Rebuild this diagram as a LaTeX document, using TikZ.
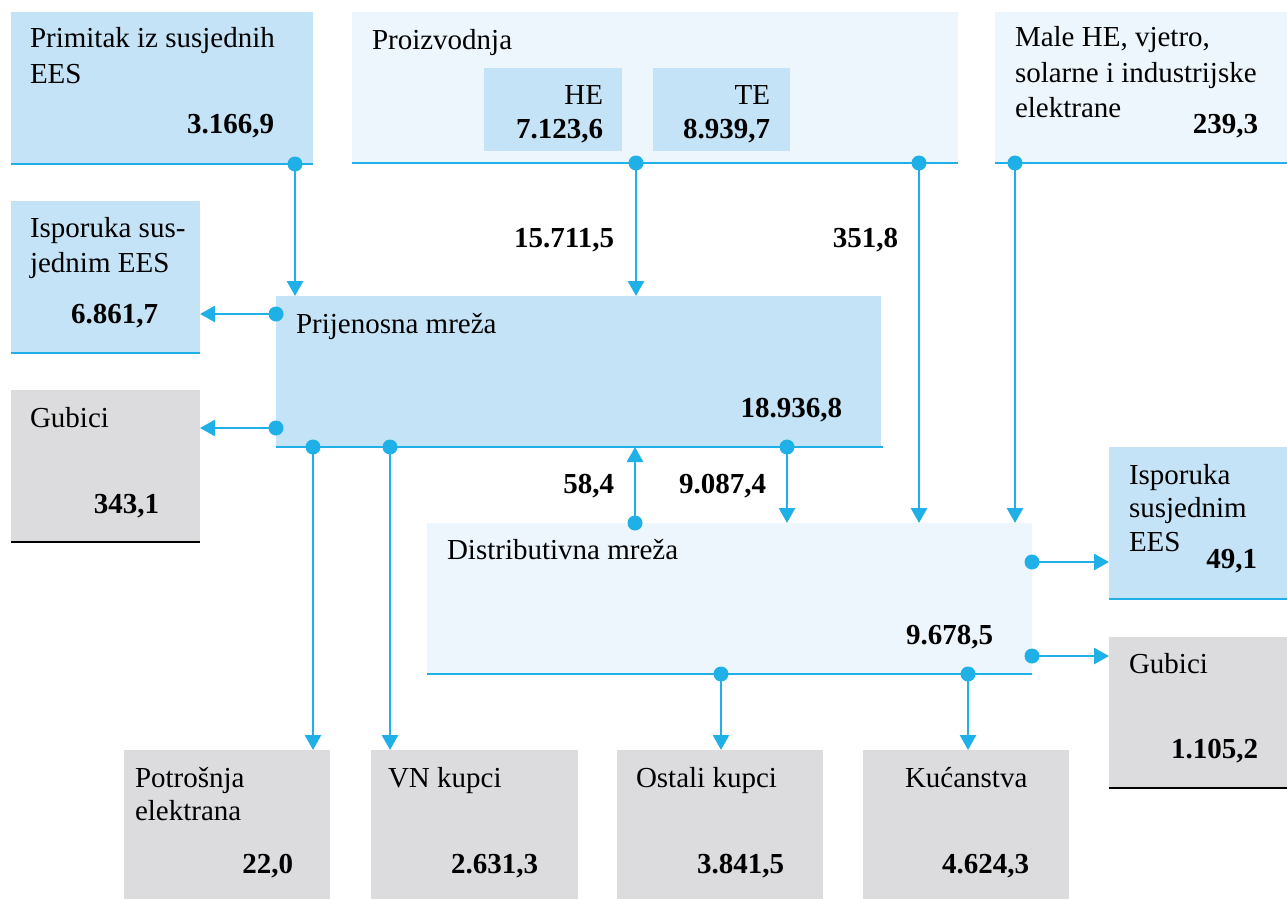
\documentclass[tikz,border=0pt]{standalone}
\usepackage{fontspec}
\setmainfont{Liberation Serif}
\usetikzlibrary{arrows.meta}
\definecolor{lb}{HTML}{C5E3F6}
\definecolor{vlb}{HTML}{EEF6FD}
\definecolor{gr}{HTML}{DCDCDE}
\definecolor{ab}{HTML}{1EB0E6}
\tikzset{
  box/.style={draw=none,inner sep=0pt,outer sep=0pt,anchor=north west},
  lbox/.style={box,fill=lb},
  vbox/.style={box,fill=vlb},
  gbox/.style={box,fill=gr},
  bline/.style={draw=ab,line width=2.4pt},
  kline/.style={draw=black,line width=2.2pt},
  txt/.style={inner sep=0pt,outer sep=0pt,anchor=base west,font=\fontsize{29}{34}\selectfont},
  num/.style={inner sep=0pt,outer sep=0pt,anchor=base east,font=\fontsize{29}{34}\selectfont\bfseries},
  flow/.style={draw=ab,line width=2.7pt,-{Triangle[length=15pt,width=16pt]}},
  dotc/.style={fill=ab}
}
\begin{document}
\begin{tikzpicture}[x=1pt,y=-1pt]
\useasboundingbox (0,0) rectangle (1287,899);
% boxes
\node[lbox,minimum width=302pt,minimum height=152pt] (prim) at (11,12) {};
\node[vbox,minimum width=606pt,minimum height=151pt] (proiz) at (352,12) {};
\node[lbox,minimum width=138pt,minimum height=83pt] (he) at (484,68) {};
\node[lbox,minimum width=137pt,minimum height=83pt] (te) at (653,68) {};
\node[vbox,minimum width=292pt,minimum height=151pt] (male) at (995,12) {};
\node[lbox,minimum width=189pt,minimum height=152pt] (ispL) at (11,201) {};
\node[gbox,minimum width=189pt,minimum height=152pt] (gubL) at (11,390) {};
\node[lbox,minimum width=605pt,minimum height=151pt] (prij) at (276,296) {};
\node[vbox,minimum width=605pt,minimum height=151pt] (dist) at (427,523) {};
\node[lbox,minimum width=178pt,minimum height=152pt] (ispR) at (1109,447) {};
\node[gbox,minimum width=178pt,minimum height=151pt] (gubR) at (1109,637) {};
\node[gbox,minimum width=206pt,minimum height=149pt] (potr) at (124,750) {};
\node[gbox,minimum width=207pt,minimum height=149pt] (vn) at (371,750) {};
\node[gbox,minimum width=206pt,minimum height=149pt] (ost) at (617,750) {};
\node[gbox,minimum width=206pt,minimum height=149pt] (kuc) at (863,750) {};
% bottom lines
\draw[bline] (prim.south west) -- (prim.south east);
\draw[bline] (proiz.south west) -- (proiz.south east);
\draw[bline] (male.south west) -- (male.south east);
\draw[bline] (ispL.south west) -- (ispL.south east);
\draw[kline] (gubL.south west) -- (gubL.south east);
\draw[bline] (prij.south west) -- ([xshift=2pt]prij.south east);
\draw[bline] (dist.south west) -- (dist.south east);
\draw[bline] (ispR.south west) -- (ispR.south east);
\draw[kline] (gubR.south west) -- (gubR.south east);
% texts
\node[txt] (t1) at (30,48) {Primitak iz susjednih};
\node[txt] (t2) at (30,83) {EES};
\node[num] (n1) at (274,133) {3.166,9};
\node[txt] (t3) at (372,49) {Proizvodnja};
\node[txt,anchor=base east] (t4) at (603,104) {HE};
\node[num] (n2) at (603,138) {7.123,6};
\node[txt,anchor=base east] (t5) at (770,104) {TE};
\node[num] (n3) at (770,138) {8.939,7};
\node[txt] (t6) at (1015,47) {Male HE, vjetro,};
\node[txt] (t7) at (1015,82) {solarne i industrijske};
\node[txt] (t8) at (1015,117) {elektrane};
\node[num] (n4) at (1258,133) {239,3};
\node[txt] (t9) at (30,237) {Isporuka sus-};
\node[txt] (t10) at (30,272) {jednim EES};
\node[num] (n5) at (158,323) {6.861,7};
\node[txt] (t11) at (30,427) {Gubici};
\node[num] (n6) at (159,513) {343,1};
\node[txt] (t12) at (296,333) {Prijenosna mreža};
\node[num] (n7) at (842,417) {18.936,8};
\node[txt] (t13) at (447,559) {Distributivna mreža};
\node[num] (n8) at (993,644) {9.678,5};
\node[txt] (t14) at (1129,484) {Isporuka};
\node[txt] (t15) at (1129,517) {susjednim};
\node[txt] (t16) at (1129,551) {EES};
\node[num] (n9) at (1257,568) {49,1};
\node[txt] (t17) at (1129,673) {Gubici};
\node[num] (n10) at (1258,758) {1.105,2};
\node[txt] (t18) at (135,787) {Potrošnja};
\node[txt] (t19) at (135,820) {elektrana};
\node[num] (n11) at (293,873) {22,0};
\node[txt] (t20) at (388,787) {VN kupci};
\node[num] (n12) at (538,873) {2.631,3};
\node[txt] (t21) at (636,787) {Ostali kupci};
\node[num] (n13) at (784,873) {3.841,5};
\node[txt] (t22) at (905,787) {Kućanstva};
\node[num] (n14) at (1029,873) {4.624,3};
\node[num] (l1) at (614,247) {15.711,5};
\node[num] (l2) at (898,247) {351,8};
\node[num] (l3) at (614,493) {58,4};
\node[num] (l4) at (766,493) {9.087,4};
% connector start points
\coordinate (s1) at (295,164);
\coordinate (s2) at (636,163);
\coordinate (s3) at (919,163);
\coordinate (s4) at (1015,163);
\coordinate (s5) at (276,314);
\coordinate (s6) at (276,428);
\coordinate (s7) at (635,523);
\coordinate (s8) at (787,447);
\coordinate (s9) at (313,447);
\coordinate (s10) at (390,447);
\coordinate (s11) at (1032,562);
\coordinate (s12) at (1032,656);
\coordinate (s13) at (721,674);
\coordinate (s14) at (968,674);
% connectors
\draw[flow] (s1) -- (s1 |- prij.north);
\draw[flow] (s2) -- (s2 |- prij.north);
\draw[flow] (s3) -- (s3 |- dist.north);
\draw[flow] (s4) -- (s4 |- dist.north);
\draw[flow] (s5) -- (s5 -| ispL.east);
\draw[flow] (s6) -- (s6 -| gubL.east);
\draw[flow] (s7) -- (s7 |- prij.south);
\draw[flow] (s8) -- (s8 |- dist.north);
\draw[flow] (s9) -- (s9 |- potr.north);
\draw[flow] (s10) -- (s10 |- vn.north);
\draw[flow] (s11) -- (s11 -| ispR.west);
\draw[flow] (s12) -- (s12 -| gubR.west);
\draw[flow] (s13) -- (s13 |- ost.north);
\draw[flow] (s14) -- (s14 |- kuc.north);
% dots
\foreach \c in {s1,s2,s3,s4,s5,s6,s7,s8,s9,s10,s11,s12,s13,s14}
  \fill[dotc] (\c) circle[radius=7.5pt];
\end{tikzpicture}
\end{document}
